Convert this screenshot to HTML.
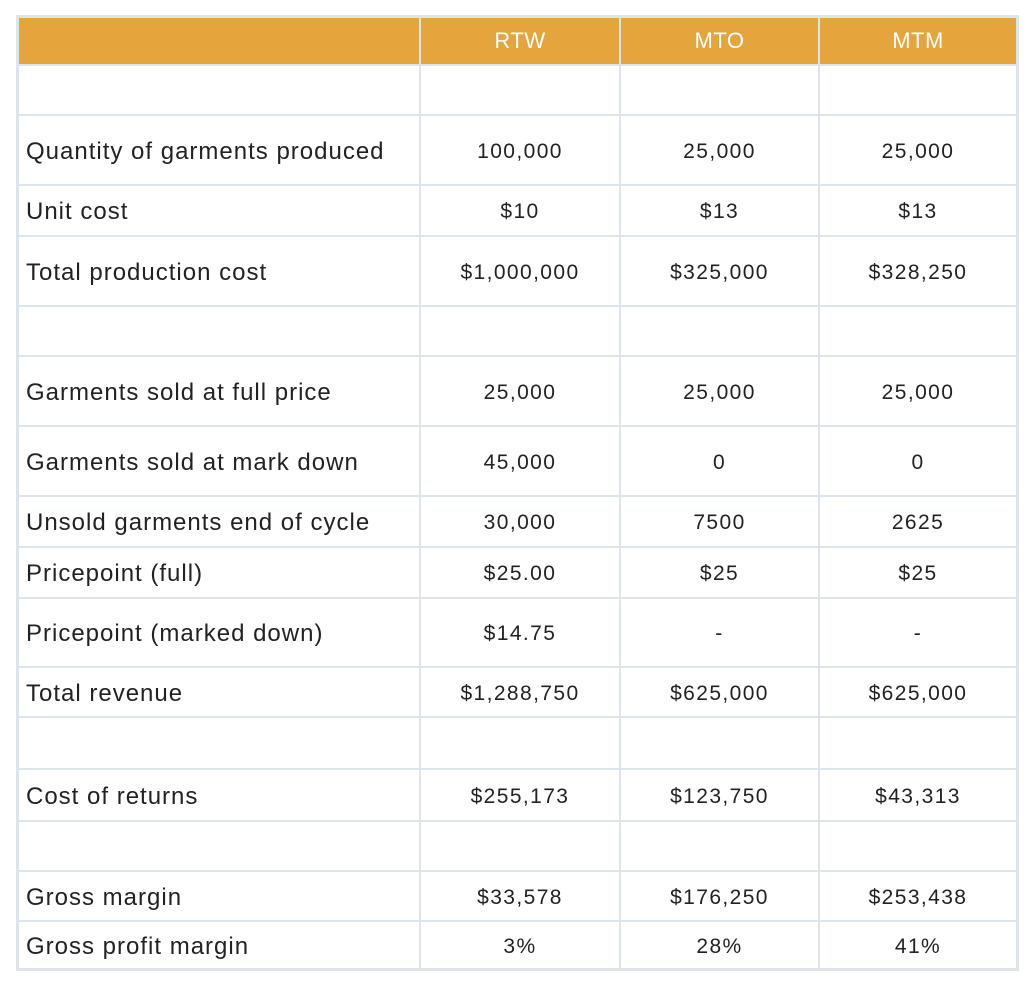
<!DOCTYPE html>
<html><head><style>
body{margin:0;background:#fff;width:1036px;height:992px;overflow:hidden}
.t{position:absolute;left:16px;top:15px;padding:3px;background:#dde4eb;display:grid;
grid-template-columns:400px 198px 197px 196px;
grid-template-rows:46px 48px 68px 49px 68px 48px 68px 68px 49px 49px 67px 48px 50px 50px 48px 48px 46px;
gap:2px;font-family:"Liberation Sans",sans-serif;color:#222}
.t div{background:#fff;display:flex;align-items:center;justify-content:center;font-size:21px;letter-spacing:1.4px;padding-top:3px;box-sizing:border-box}
.t div.l{justify-content:flex-start;padding-left:7px;font-size:24px;letter-spacing:1px}
.t div.h{background:#e5a53d;color:#fff;font-size:22px;letter-spacing:0.5px;padding-top:0}
</style></head><body>
<div class="t">
<div class="h"></div><div class="h">RTW</div><div class="h">MTO</div><div class="h">MTM</div>
<div></div><div></div><div></div><div></div>
<div class="l">Quantity of garments produced</div><div>100,000</div><div>25,000</div><div>25,000</div>
<div class="l">Unit cost</div><div>$10</div><div>$13</div><div>$13</div>
<div class="l">Total production cost</div><div>$1,000,000</div><div>$325,000</div><div>$328,250</div>
<div></div><div></div><div></div><div></div>
<div class="l">Garments sold at full price</div><div>25,000</div><div>25,000</div><div>25,000</div>
<div class="l">Garments sold at mark down</div><div>45,000</div><div>0</div><div>0</div>
<div class="l">Unsold garments end of cycle</div><div>30,000</div><div>7500</div><div>2625</div>
<div class="l">Pricepoint (full)</div><div>$25.00</div><div>$25</div><div>$25</div>
<div class="l">Pricepoint (marked down)</div><div>$14.75</div><div>-</div><div>-</div>
<div class="l">Total revenue</div><div>$1,288,750</div><div>$625,000</div><div>$625,000</div>
<div></div><div></div><div></div><div></div>
<div class="l">Cost of returns</div><div>$255,173</div><div>$123,750</div><div>$43,313</div>
<div></div><div></div><div></div><div></div>
<div class="l">Gross margin</div><div>$33,578</div><div>$176,250</div><div>$253,438</div>
<div class="l">Gross profit margin</div><div>3%</div><div>28%</div><div>41%</div>
</div>
</body></html>
